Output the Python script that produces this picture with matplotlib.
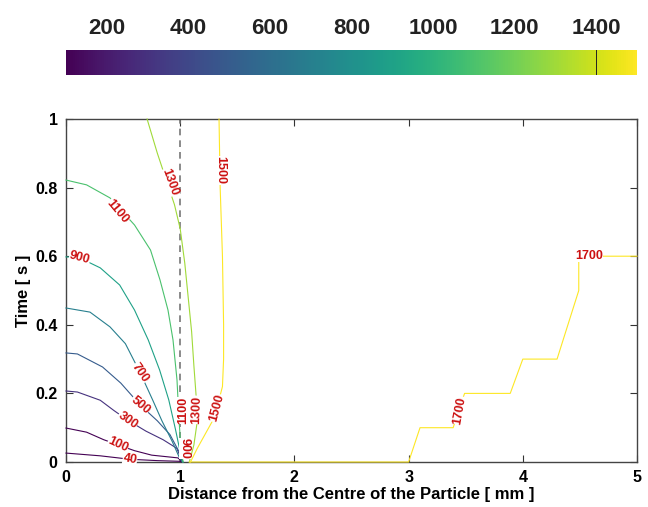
import numpy as np
import matplotlib.pyplot as plt
from matplotlib import cm, colors

plt.rcParams['font.family'] = ['Liberation Sans', 'DejaVu Sans']
plt.rcParams['font.weight'] = 'bold'

# Contour levels (temperature) and their traced lines: distance [mm] vs time [s]
levels = [40, 100, 300, 500, 700, 900, 1100, 1300, 1500, 1700]

x_40 = [0, 0.3, 0.56, 0.8, 1.0, 1.02]
y_40 = [0.026, 0.018, 0.008, 0.004, 0.002, 0.0]

x_100 = [0, 0.18, 0.33, 0.455, 0.6, 0.75, 0.98, 1.02]
y_100 = [0.099, 0.087, 0.065, 0.05, 0.033, 0.02, 0.012, 0.0]

x_300 = [0, 0.1, 0.3, 0.42, 0.54, 0.7, 0.85, 0.97, 1.02]
y_300 = [0.207, 0.204, 0.18, 0.15, 0.122, 0.09, 0.065, 0.04, 0.0]

x_500 = [0, 0.1, 0.32, 0.48, 0.65, 0.8, 0.91, 0.99, 1.02]
y_500 = [0.318, 0.315, 0.277, 0.23, 0.166, 0.12, 0.08, 0.03, 0.0]

x_700 = [0, 0.21, 0.385, 0.52, 0.65, 0.76, 0.84, 0.93, 0.99, 1.02]
y_700 = [0.449, 0.437, 0.394, 0.345, 0.26, 0.18, 0.12, 0.06, 0.015, 0.0]

x_900 = [0, 0.12, 0.30, 0.47, 0.60, 0.72, 0.82, 0.9, 0.96, 1.0, 1.025]
y_900 = [0.598, 0.595, 0.566, 0.516, 0.443, 0.356, 0.268, 0.181, 0.093, 0.029, 0.0]

x_1100 = [0, 0.18, 0.385, 0.60, 0.74, 0.823, 0.893, 0.937, 0.972, 0.99, 1.007, 1.025]
y_1100 = [0.822, 0.808, 0.77, 0.691, 0.618, 0.531, 0.443, 0.356, 0.239, 0.122, 0.035, 0.0]

x_1300 = [0.71, 0.80, 0.88, 0.95, 1.0, 1.04, 1.07, 1.10, 1.12, 1.14, 1.15, 1.12, 1.08]
y_1300 = [1.0, 0.90, 0.82, 0.75, 0.68, 0.58, 0.48, 0.38, 0.28, 0.19, 0.12, 0.05, 0.0]

x_1500 = [1.34, 1.345, 1.35, 1.36, 1.37, 1.375, 1.38, 1.38, 1.37, 1.30, 1.15, 1.09]
y_1500 = [1.0, 0.9, 0.8, 0.7, 0.6, 0.5, 0.4, 0.3, 0.22, 0.13, 0.04, 0.0]

x_1700 = [1.08, 3.0, 3.1, 3.39, 3.49, 3.89, 4.0, 4.3, 4.49, 4.49, 5.0]
y_1700 = [0.0, 0.0, 0.1, 0.1, 0.2, 0.2, 0.3, 0.3, 0.5, 0.6, 0.6]

lines_x = [x_40, x_100, x_300, x_500, x_700, x_900, x_1100, x_1300, x_1500, x_1700]
lines_y = [y_40, y_100, y_300, y_500, y_700, y_900, y_1100, y_1300, y_1500, y_1700]

# contour labels: text, x, y, rotation
label_text = ['40', '100', '300', '500', '700', '900', '1100', '1300', '1500',
              '900', '1100', '1300', '1500', '1700', '1700']
label_x = [0.56, 0.455, 0.54, 0.65, 0.65, 0.12, 0.45, 0.91, 1.35,
           1.04, 1.03, 1.147, 1.32, 3.45, 4.58]
label_y = [0.008, 0.05, 0.122, 0.166, 0.26, 0.595, 0.73, 0.816, 0.85,
           0.04, 0.15, 0.152, 0.157, 0.15, 0.6]
label_rot = [-10, -25, -35, -40, -55, -15, -50, -70, -90,
             -90, 90, 88, 75, 80, 0]

particle_radius = 1.0
cbar_ticks = [200, 400, 600, 800, 1000, 1200, 1400]

norm = colors.Normalize(vmin=100, vmax=1500)
cmap = plt.get_cmap('viridis')

fig = plt.figure(figsize=(6.48, 5.07), dpi=100)
ax = fig.add_axes([66/648, 1-462/507, 571/648, 343/507])
cax = fig.add_axes([66/648, 1-75/507, 571/648, 25/507])

# lines (not clipped so the ones lying on t = 0 stay visible over the spine)
for lv, xs, ys in zip(levels, lines_x, lines_y):
    ax.plot(xs, ys, color=cmap(norm(lv)), lw=0.8, clip_on=False, zorder=3)

ax.axvline(particle_radius, color='#777777', ls=(0, (4, 3)), lw=1.2)

for t, x, y, r in zip(label_text, label_x, label_y, label_rot):
    ax.text(x, y, t, rotation=r, color='#cc1111', fontsize=9, fontweight='bold',
            ha='center', va='center', rotation_mode='anchor', zorder=4,
            bbox=dict(fc='white', ec='none', pad=0.2))

ax.set_xlim(0, 5)
ax.set_ylim(0, 1)
ax.set_xticks([0, 1, 2, 3, 4, 5])
ax.set_yticks([0, 0.2, 0.4, 0.6, 0.8, 1])
ax.set_yticklabels(['0', '0.2', '0.4', '0.6', '0.8', '1'])
ax.tick_params(direction='in', length=5, width=0.8, top=True, right=True,
               labelsize=11.5, pad=6, color='#333333')
for s in ax.spines.values():
    s.set_color('#444444')
    s.set_linewidth(1.0)
ax.set_xlabel('Distance from the Centre of the Particle [ mm ]', fontsize=12,
              fontweight='bold', labelpad=1)
ax.set_ylabel('Time [ s ]', fontsize=12, fontweight='bold', labelpad=3)

# colorbar on top
sm = cm.ScalarMappable(norm=norm, cmap=cmap)
cb = fig.colorbar(sm, cax=cax, orientation='horizontal', ticks=cbar_ticks)
cb.outline.set_visible(False)
cax.xaxis.set_ticks_position('top')
cax.tick_params(length=0, labelsize=16, pad=8)
for lab in cax.get_xticklabels():
    lab.set_fontweight('bold')
    lab.set_color('#222222')
cax.axvline(cbar_ticks[-1], color='#222222', lw=0.7)

plt.savefig('out.png', dpi=100)
